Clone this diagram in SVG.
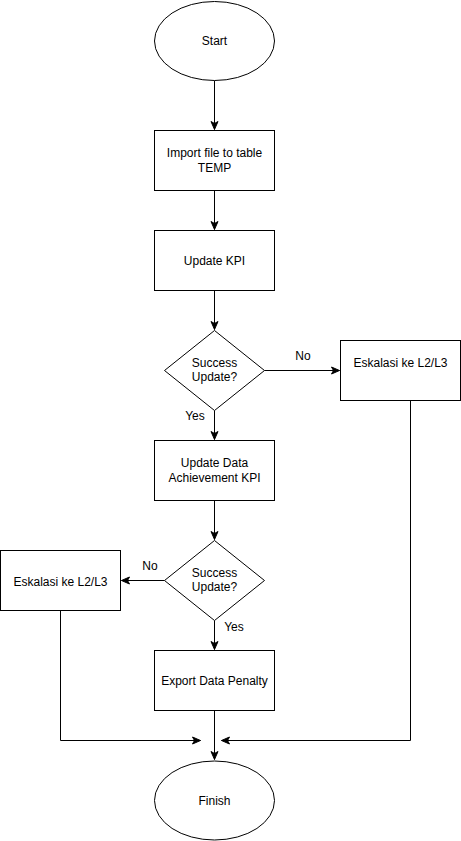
<svg xmlns="http://www.w3.org/2000/svg" width="461" height="841" viewBox="0 0 461 841">
  <defs>
    <style>
      .shape { fill: #ffffff; stroke: #000000; stroke-width: 1; }
      .edge { fill: none; stroke: #000000; stroke-width: 1; }
      text { font-family: "Liberation Sans", Arial, Helvetica, sans-serif; font-size: 12px; fill: #000000; }
      .c { text-anchor: middle; }
    </style>
    <marker id="arrow" markerUnits="userSpaceOnUse" markerWidth="10" markerHeight="10" viewBox="0 0 10 10" refX="9" refY="5" orient="auto">
      <path d="M1,1.5 L9,5 L1,8.5 L3,5 Z" fill="#000000" stroke="#000000" stroke-width="1"/>
    </marker>
  </defs>

  <rect width="461" height="841" fill="#ffffff"/>

  <!-- connectors -->
  <g id="connectors">
    <path class="edge" d="M214.5,80.5 V129.5" marker-end="url(#arrow)"/>
    <path class="edge" d="M214.5,190.5 V229.5" marker-end="url(#arrow)"/>
    <path class="edge" d="M214.5,290.5 V329.5" marker-end="url(#arrow)"/>
    <path class="edge" d="M214.5,410.5 V439.5" marker-end="url(#arrow)"/>
    <path class="edge" d="M214.5,500.5 V539.5" marker-end="url(#arrow)"/>
    <path class="edge" d="M214.5,620.5 V649.5" marker-end="url(#arrow)"/>
    <path class="edge" d="M214.5,710.5 V759.5" marker-end="url(#arrow)"/>
    <path class="edge" d="M264.5,370.5 H339.5" marker-end="url(#arrow)"/>
    <path class="edge" d="M164.5,580.5 H121.5" marker-end="url(#arrow)"/>
    <path class="edge" d="M60.5,610.5 V740.5 H200.5" marker-end="url(#arrow)"/>
    <path class="edge" d="M410.5,400.5 V740.5 H221.5" marker-end="url(#arrow)"/>
    <text x="303" y="360" class="c">No</text>
    <text x="195" y="420" class="c">Yes</text>
    <text x="150" y="570" class="c">No</text>
    <text x="234" y="631" class="c">Yes</text>
  </g>

  <g id="start">
    <ellipse class="shape" cx="214.5" cy="41" rx="60" ry="39.5"/>
    <text x="214.5" y="45" class="c">Start</text>
  </g>

  <g id="import-file">
    <rect class="shape" x="154.5" y="130.5" width="120" height="60"/>
    <text x="214.5" y="157" class="c">Import file to table</text>
    <text x="214.5" y="172" class="c">TEMP</text>
  </g>

  <g id="update-kpi">
    <rect class="shape" x="154.5" y="230.5" width="120" height="60"/>
    <text x="214.5" y="265" class="c">Update KPI</text>
  </g>

  <g id="decision-1">
    <path class="shape" d="M214.5,330.5 L264.5,370.5 L214.5,410.5 L164.5,370.5 Z"/>
    <text x="214.5" y="367" class="c">Success</text>
    <text x="214.5" y="381" class="c">Update?</text>
  </g>

  <g id="escalate-right">
    <rect class="shape" x="340.5" y="340.5" width="120" height="60"/>
    <text x="400.5" y="367" class="c">Eskalasi ke L2/L3</text>
  </g>

  <g id="update-achievement">
    <rect class="shape" x="154.5" y="440.5" width="120" height="60"/>
    <text x="214.5" y="467" class="c">Update Data</text>
    <text x="214.5" y="482" class="c">Achievement KPI</text>
  </g>

  <g id="decision-2">
    <path class="shape" d="M214.5,540.5 L264.5,580.5 L214.5,620.5 L164.5,580.5 Z"/>
    <text x="214.5" y="577" class="c">Success</text>
    <text x="214.5" y="591" class="c">Update?</text>
  </g>

  <g id="escalate-left">
    <rect class="shape" x="0.5" y="550.5" width="120" height="60"/>
    <text x="60.5" y="586" class="c">Eskalasi ke L2/L3</text>
  </g>

  <g id="export-penalty">
    <rect class="shape" x="154.5" y="650.5" width="120" height="60"/>
    <text x="214.5" y="685" class="c">Export Data Penalty</text>
  </g>

  <g id="finish">
    <ellipse class="shape" cx="214.5" cy="800.5" rx="60" ry="39.5"/>
    <text x="214.5" y="805" class="c">Finish</text>
  </g>
</svg>
